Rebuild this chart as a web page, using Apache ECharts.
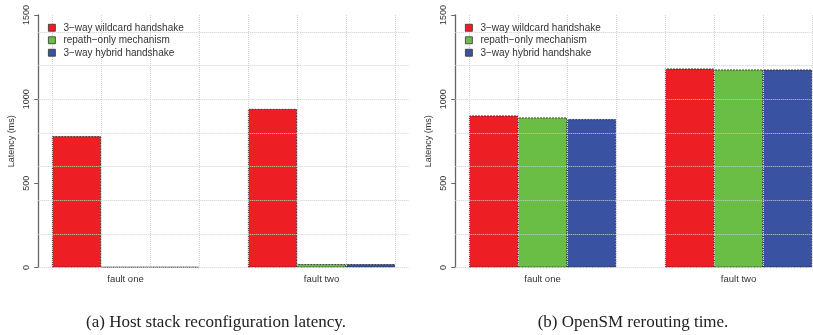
<!DOCTYPE html>
<html>
<head>
<meta charset="utf-8">
<script src="https://cdn.jsdelivr.net/npm/echarts@6/dist/echarts.min.js"></script>
<style>
  html, body {margin: 0; padding: 0; background: #fff;}
  #chart {width: 813px; height: 335px;}
</style>
</head>
<body>
<div id="chart"></div>
<script>
// data
const faults = ['fault one', 'fault two']
const seriesNames = ['3\u2212way wildcard handshake', 'repath\u2212only mechanism', '3\u2212way hybrid handshake']
const hostWildcard = [780, 942]
const hostRepath = [3, 20]
const hostHybrid = [3, 20]
const smWildcard = [903, 1182]
const smRepath = [891, 1176]
const smHybrid = [881, 1176]
const yTicks = [0, 500, 1000, 1500]
const captions = ['(a) Host stack reconfiguration latency.', '(b) OpenSM rerouting time.']

const colors = ['#ED1E24', '#6ABD45', '#3953A2']
const FONT = 'Liberation Sans'
const gridGray = '#cfcfcf'

const chart = echarts.init(document.getElementById('chart'))

// one panel = 3 grids: axis grid (y axis + horizontal grid), vertical grid lines, bars
// unit = one bar width (49px), R barplot xlim 0.72..8.28, bars at 1..8
function panel(x0, idx) {
  const unit = 49
  const top = 15, height = 252.5
  const grids = [
    {left: x0 - 0.28 * unit, top: top, width: 7.56 * unit, height: height},
    {left: x0, top: top, width: 7 * unit, height: height},
    {left: x0 - 0.5 * unit, top: top, width: 8 * unit, height: height}
  ]
  const g = idx * 3
  const xAxes = [
    {gridIndex: g, type: 'value', min: 0.72, max: 8.28, show: false},
    {gridIndex: g + 1, type: 'value', min: 1, max: 8, interval: 1, z: 3,
      axisLine: {show: false}, axisTick: {show: false}, axisLabel: {show: false},
      splitLine: {show: true, lineStyle: {color: gridGray, type: 'dotted', width: 1}}},
    {gridIndex: g + 2, type: 'category', data: faults,
      axisLine: {show: false}, axisTick: {show: false},
      axisLabel: {fontFamily: FONT, fontSize: 9.5, color: '#333', margin: 7},
      splitLine: {show: false}}
  ]
  const yAxes = [
    {gridIndex: g, type: 'value', min: 0, max: 1500, interval: 500,
      name: 'Latency (ms)', nameLocation: 'middle', nameGap: 22,
      nameTextStyle: {fontFamily: FONT, fontSize: 9, color: '#333'},
      axisLine: {show: true, lineStyle: {color: '#666', width: 1.3}},
      axisTick: {show: true, length: 4, lineStyle: {color: '#666'}},
      axisLabel: {rotate: 90, fontFamily: FONT, fontSize: 9, color: '#333', margin: 7,
        formatter: v => yTicks.includes(v) ? String(v) : ''},
      splitLine: {show: false}},
    {gridIndex: g, type: 'value', min: 0, max: 1500, interval: 200, z: 3,
      axisLine: {show: false}, axisTick: {show: false}, axisLabel: {show: false},
      splitLine: {show: true, showMaxLine: false, lineStyle: {color: gridGray, type: 'dotted', width: 1}}},
    {gridIndex: g + 1, type: 'value', min: 0, max: 1500, show: false},
    {gridIndex: g + 2, type: 'value', min: 0, max: 1500, show: false}
  ]
  return {grids, xAxes, yAxes}
}

const left = panel(52, 0)
const right = panel(469, 1)

function bars(values, i, xIdx, yIdx) {
  return {
    name: seriesNames[i], type: 'bar', data: values,
    xAxisIndex: xIdx, yAxisIndex: yIdx,
    barGap: '0%', barCategoryGap: '25%',
    itemStyle: {color: colors[i], borderColor: '#222', borderWidth: 0.8, borderType: [2, 1]},
    emphasis: {disabled: true}
  }
}

function legend(x) {
  return {
    left: x, top: 22, orient: 'vertical', padding: 0,
    itemWidth: 7, itemHeight: 7, itemGap: 1, icon: 'rect',
    itemStyle: {borderColor: '#333', borderWidth: 0.8, borderType: 'solid'},
    textStyle: {fontFamily: FONT, fontSize: 10, color: '#333', lineHeight: 11.5, padding: [0, 0, 0, 3]},
    data: seriesNames
  }
}

chart.setOption({
  animation: false,
  color: colors,
  grid: left.grids.concat(right.grids).map(gr => Object.assign({outerBoundsMode: 'none'}, gr)),
  xAxis: left.xAxes.concat(right.xAxes),
  yAxis: left.yAxes.concat(right.yAxes),
  legend: [legend(48), legend(465)],
  series: [
    bars(hostWildcard, 0, 2, 3),
    bars(hostRepath, 1, 2, 3),
    bars(hostHybrid, 2, 2, 3),
    bars(smWildcard, 0, 5, 7),
    bars(smRepath, 1, 5, 7),
    bars(smHybrid, 2, 5, 7)
  ],
  graphic: [
    {type: 'text', x: 216, y: 323, style: {text: captions[0], font: '17px "Liberation Serif"', fill: '#222', align: 'center', verticalAlign: 'middle'}},
    {type: 'text', x: 633, y: 323, style: {text: captions[1], font: '17px "Liberation Serif"', fill: '#222', align: 'center', verticalAlign: 'middle'}}
  ]
})
</script>
</body>
</html>
